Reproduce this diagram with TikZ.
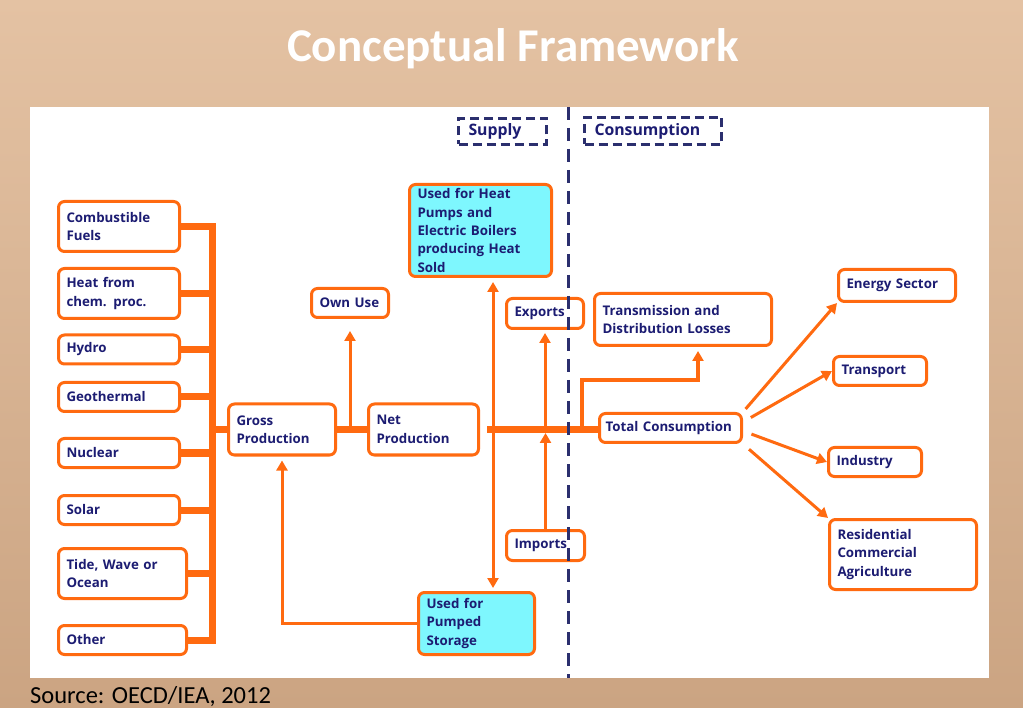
\documentclass[tikz,border=0pt]{standalone}
\usepackage{fontspec}
\setmainfont{Open Sans}
\newfontfamily\slidefont{Carlito}
\usepackage{xcolor}
\definecolor{orng}{HTML}{FF6A10}
\definecolor{navy}{HTML}{1C1C72}
\definecolor{dnavy}{HTML}{2B2F6E}
\definecolor{aqua}{HTML}{7EF7FE}
\definecolor{bgtop}{HTML}{E4C2A3}
\definecolor{bgbot}{HTML}{CBA482}
\usetikzlibrary{arrows.meta,calc}

\begin{document}
\begin{tikzpicture}[x=1pt, y=-1pt,
                   blk/.style={draw=orng, line width=3pt, rounded corners=6pt, fill=white,
                               font=\fontsize{13.3}{18.4}\selectfont\bfseries, text=navy,
                               align=left, inner xsep=8pt, inner ysep=2pt},
                   hot/.style={blk, fill=aqua},
                   tag/.style={draw=dnavy, line width=3pt, dash pattern=on 9pt off 5pt,
                               font=\fontsize{15.8}{18}\selectfont\bfseries, text=navy,
                               align=left, inner xsep=10pt},
                   bus/.style={draw=orng, line width=7pt},
                   link/.style={draw=orng, line width=3pt},
                   arr/.style={link, -{Triangle[length=10pt,width=11pt]}},
                   arrtwo/.style={link, {Triangle[length=10pt,width=11pt]}-{Triangle[length=10pt,width=11pt]}},
                   divider/.style={draw=dnavy, line width=3pt, dash pattern=on 13pt off 8pt}]
    \useasboundingbox (0,0) rectangle (1023,708);
    % slide background and white panel
    \shade[top color=bgtop, bottom color=bgbot] (0,0) rectangle (1023,708);
    \fill[white] (30,107) rectangle (989,678);
    \node[font=\slidefont\bfseries\fontsize{47}{50}\selectfont, text=white,
          anchor=base] (title) at (513,62) {Conceptual Framework};
    \node[font=\slidefont\fontsize{24.5}{28}\selectfont, anchor=base west, inner sep=0pt]
          (source) at (30,703) {Source: OECD/IEA, 2012};

    % sources
    \node[blk, text width=105pt, minimum height=50pt] (fuel)  at (119,226.5) {Combustible\\Fuels};
    \node[blk, text width=105pt, minimum height=50pt] (chem)  at (119,293.5) {Heat from\\chem. proc.};
    \node[blk, text width=105pt, minimum height=29pt] (hydro) at (119,349.5) {Hydro};
    \node[blk, text width=105pt, minimum height=29pt] (geo)   at (119,397)   {Geothermal};
    \node[blk, text width=105pt, minimum height=29pt] (nuc)   at (119,453)   {Nuclear};
    \node[blk, text width=105pt, minimum height=29pt] (solar) at (119,510)   {Solar};
    \node[blk, text width=112pt, minimum height=50pt] (tide)  at (122.5,573.5) {Tide, Wave or\\Ocean};
    \node[blk, text width=112pt, minimum height=29pt] (other) at (122.5,640) {Other};

    % production
    \node[blk, text width=91pt, minimum height=51pt] (gross)  at (282,429.5) {Gross\\Production};
    \node[blk, text width=94pt, minimum height=51pt] (net)    at (423.5,429.5) {Net\\Production};
    \node[blk, text width=61pt, minimum height=29pt] (ownuse) at (350,303) {Own Use};
    \node[hot, text width=126pt, minimum height=92pt] (heat)  at (480.5,230.5) {Used for Heat\\Pumps and\\Electric Boilers\\producing Heat\\Sold};
    \node[hot, text width=100pt, minimum height=62pt] (pumped) at (476.5,623.5) {Used for\\Pumped\\Storage};
    \node[blk, text width=61pt, minimum height=30pt] (exports) at (545,313.5) {Exports};
    \node[blk, text width=62pt, minimum height=30pt] (imports) at (545.5,545.5) {Imports};

    % consumption
    \node[blk, text width=161pt, minimum height=52pt] (trans) at (683,319.5) {Transmission and\\Distribution Losses};
    \node[blk, text width=130pt, inner xsep=6pt, minimum height=29pt] (total) at (670.5,428) {\mbox{Total Consumption}};
    \node[blk, text width=101pt, minimum height=32pt] (energy) at (897,285.5) {Energy Sector};
    \node[blk, text width=77pt, minimum height=29pt] (transport) at (880,371) {Transport};
    \node[blk, text width=77pt, minimum height=29pt] (industry) at (875,462) {Industry};
    \node[blk, text width=131pt, minimum height=70pt] (resid) at (903,554.5) {Residential\\Commercial\\Agriculture};

    % headings
    \node[tag, text width=68pt, minimum height=26pt] (supply) at (502.5,131.5) {Supply};
    \node[tag, text width=117pt, minimum height=27pt] (consum) at (653,131) {Consumption};

    \coordinate (bx) at (212,0);
    \coordinate (vx) at (493,0);
    \coordinate (tk) at (582,380);
    \coordinate (tr) at (698,0);

    % collecting bus
    \draw[bus] (fuel.east)  -- (fuel.east -| bx);
    \draw[bus] (chem.east)  -- (chem.east -| bx);
    \draw[bus] (hydro.east) -- (hydro.east -| bx);
    \draw[bus] (geo.east)   -- (geo.east -| bx);
    \draw[bus] (nuc.east)   -- (nuc.east -| bx);
    \draw[bus] (solar.east) -- (solar.east -| bx);
    \draw[bus] (tide.east)  -- (tide.east -| bx);
    \draw[bus] (other.east) -- (other.east -| bx);
    \draw[bus, line cap=rect] (fuel.east -| bx) -- (other.east -| bx);
    \draw[bus] (gross.west -| bx) -- (gross.west);
    \draw[bus] (gross.east) -- (net.west);
    \draw[bus, shorten <=7pt] (net.east) -- (net.east -| total.west);

    % flows
    \draw[arr, shorten >=12pt] (ownuse.south |- gross.east) -- (ownuse.south);
    \draw[arr, shorten >=4pt] (pumped.west) -| (gross.south);
    \draw[arrtwo, shorten <=4pt, shorten >=3pt] (heat.south -| vx) -- (pumped.north -| vx);
    \draw[arr, shorten >=3pt] (exports.south |- net.east) -- (exports.south);
    \draw[arr, shorten >=3.5pt] (imports.north) -- (imports.north |- net.east);
    \draw[arr, line width=3.5pt, shorten >=4pt] (tk |- net.east) -- (tk) -| (trans.south -| tr);
    \draw[arr, shorten <=4pt] (total.north east) -- (energy.south west);
    \draw[arr, shorten <=9pt] ($(total.east)+(0,-6)$) -- (transport.west);
    \draw[arr, shorten <=9pt] ($(total.east)+(0,3)$) -- (industry.west);
    \draw[arr, shorten <=8pt] (total.south east) -- (resid.north west);

    % supply / consumption border
    \coordinate (dtop) at (568,107);
    \coordinate (dbot) at (568,678);
    \draw[divider] (dtop) -- (dbot);
\end{tikzpicture}
\end{document}
